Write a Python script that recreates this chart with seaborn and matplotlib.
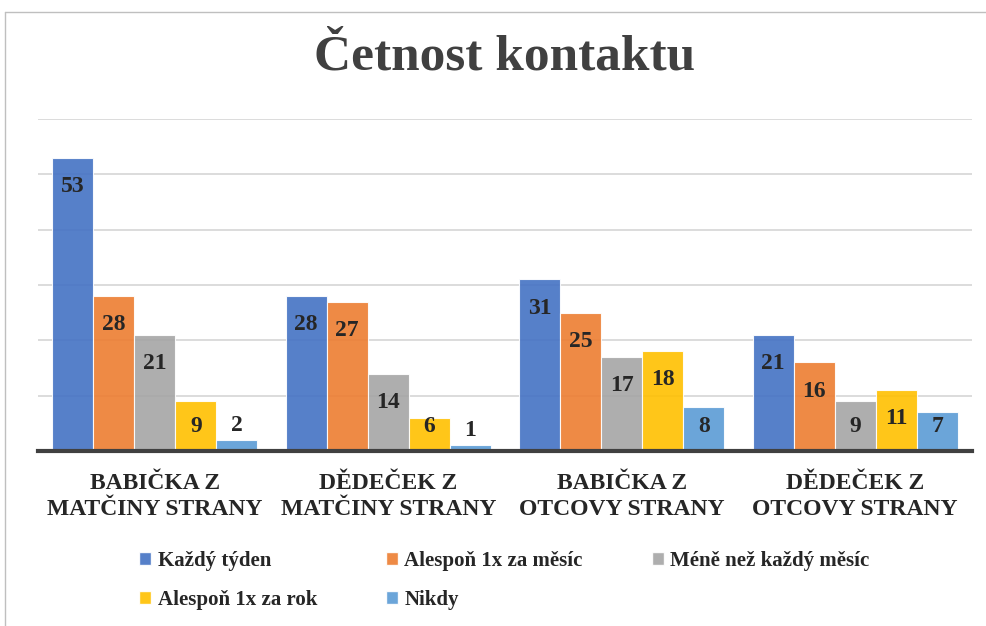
import matplotlib
matplotlib.use('Agg')
import matplotlib.pyplot as plt
import seaborn as sns
import pandas as pd
from matplotlib.lines import Line2D
from matplotlib.patches import Patch

# data
categories = ['BABIČKA Z\nMATČINY STRANY', 'DĚDEČEK Z\nMATČINY STRANY',
              'BABIČKA Z\nOTCOVY STRANY', 'DĚDEČEK Z\nOTCOVY STRANY']
series = ['Každý týden', 'Alespoň 1x za měsíc', 'Méně než každý měsíc',
          'Alespoň 1x za rok', 'Nikdy']
kazdy_tyden = [53, 28, 31, 21]
za_mesic = [28, 27, 25, 16]
mene_nez_mesic = [21, 14, 17, 9]
za_rok = [9, 6, 18, 11]
nikdy = [2, 1, 8, 7]
colors = ['#4472C4', '#ED7D31', '#A5A5A5', '#FFC000', '#5B9BD5']

values = [kazdy_tyden, za_mesic, mene_nez_mesic, za_rok, nikdy]
rows = []
for s, vals in zip(series, values):
    for c, v in zip(categories, vals):
        rows.append({'kategorie': c, 'serie': s, 'pocet': v})
df = pd.DataFrame(rows)

sns.set_theme(style='white')
plt.rcParams['font.family'] = ['Liberation Serif', 'DejaVu Serif']

W, H = 987, 626
fig = plt.figure(figsize=(W / 100, H / 100), dpi=100)
ax = fig.add_axes([38 / W, 1 - 451 / H, (972 - 38) / W, (451 - 119) / H])

sns.barplot(data=df, x='kategorie', y='pocet', hue='serie', order=categories,
            hue_order=series, palette=colors, width=0.88, saturation=1,
            edgecolor='white', linewidth=0.8, alpha=0.9, ax=ax, legend=False)

ax.set_ylim(0, 60)
ax.set_yticks(range(0, 61, 10))
ax.yaxis.grid(True, color='#D9D9D9', linewidth=1.3)
ax.set_axisbelow(True)
ax.tick_params(axis='y', left=False, labelleft=False)
ax.tick_params(axis='x', bottom=False, pad=10)
for sp in ['top', 'right', 'left']:
    ax.spines[sp].set_visible(False)
ax.spines['bottom'].set_color('#404040')
ax.spines['bottom'].set_linewidth(3)
ax.set_xlabel('')
ax.set_ylabel('')
for lbl in ax.get_xticklabels():
    lbl.set_fontsize(17)
    lbl.set_fontweight('bold')
    lbl.set_color('#262626')
    lbl.set_linespacing(1.3)

# value labels: inside end, pushed up for short bars, outside for tiny ones
px_per_unit = (451 - 119) / 60
for cont in ax.containers:
    for p in cont.patches:
        h = p.get_height()
        x = p.get_x() + p.get_width() / 2
        kw = dict(textcoords='offset points', ha='center', fontsize=17,
                  fontweight='bold', color='#262626')
        if h < 5:
            ax.annotate(f'{int(h)}', (x, h), xytext=(0, 3), va='bottom', **kw)
        elif h * px_per_unit < 52:
            ax.annotate(f'{int(h)}', (x, 0), xytext=(0, 10), va='bottom', **kw)
        else:
            ax.annotate(f'{int(h)}', (x, h), xytext=(0, -13), va='top', **kw)

fig.suptitle('Četnost kontaktu', x=505 / W, y=1 - 58 / H, va='center',
             fontsize=37, fontweight='bold', color='#404040')

# legend filled row by row: reorder for matplotlib's column-major fill
order = [0, 3, 1, 4, 2]
handles = [Patch(facecolor=colors[i], edgecolor='white', alpha=0.9) for i in order]
labels = [series[i] for i in order]
fig.legend(handles, labels, loc='upper left', bbox_to_anchor=(120 / W, 1 - 532 / H),
           ncol=3, frameon=False, handlelength=0.6, handleheight=0.6, handletextpad=0.3,
           columnspacing=3.3, labelspacing=0.9,
           prop={'family': ['Liberation Serif'], 'weight': 'bold', 'size': 15})

# chart frame (left and top edges visible)
fig.add_artist(Line2D([5 / W, 5 / W], [0, 1 - 12 / H], color='#BFBFBF', linewidth=1))
fig.add_artist(Line2D([5 / W, 1], [1 - 12 / H, 1 - 12 / H], color='#BFBFBF', linewidth=1))

fig.savefig('out.png', dpi=100)
